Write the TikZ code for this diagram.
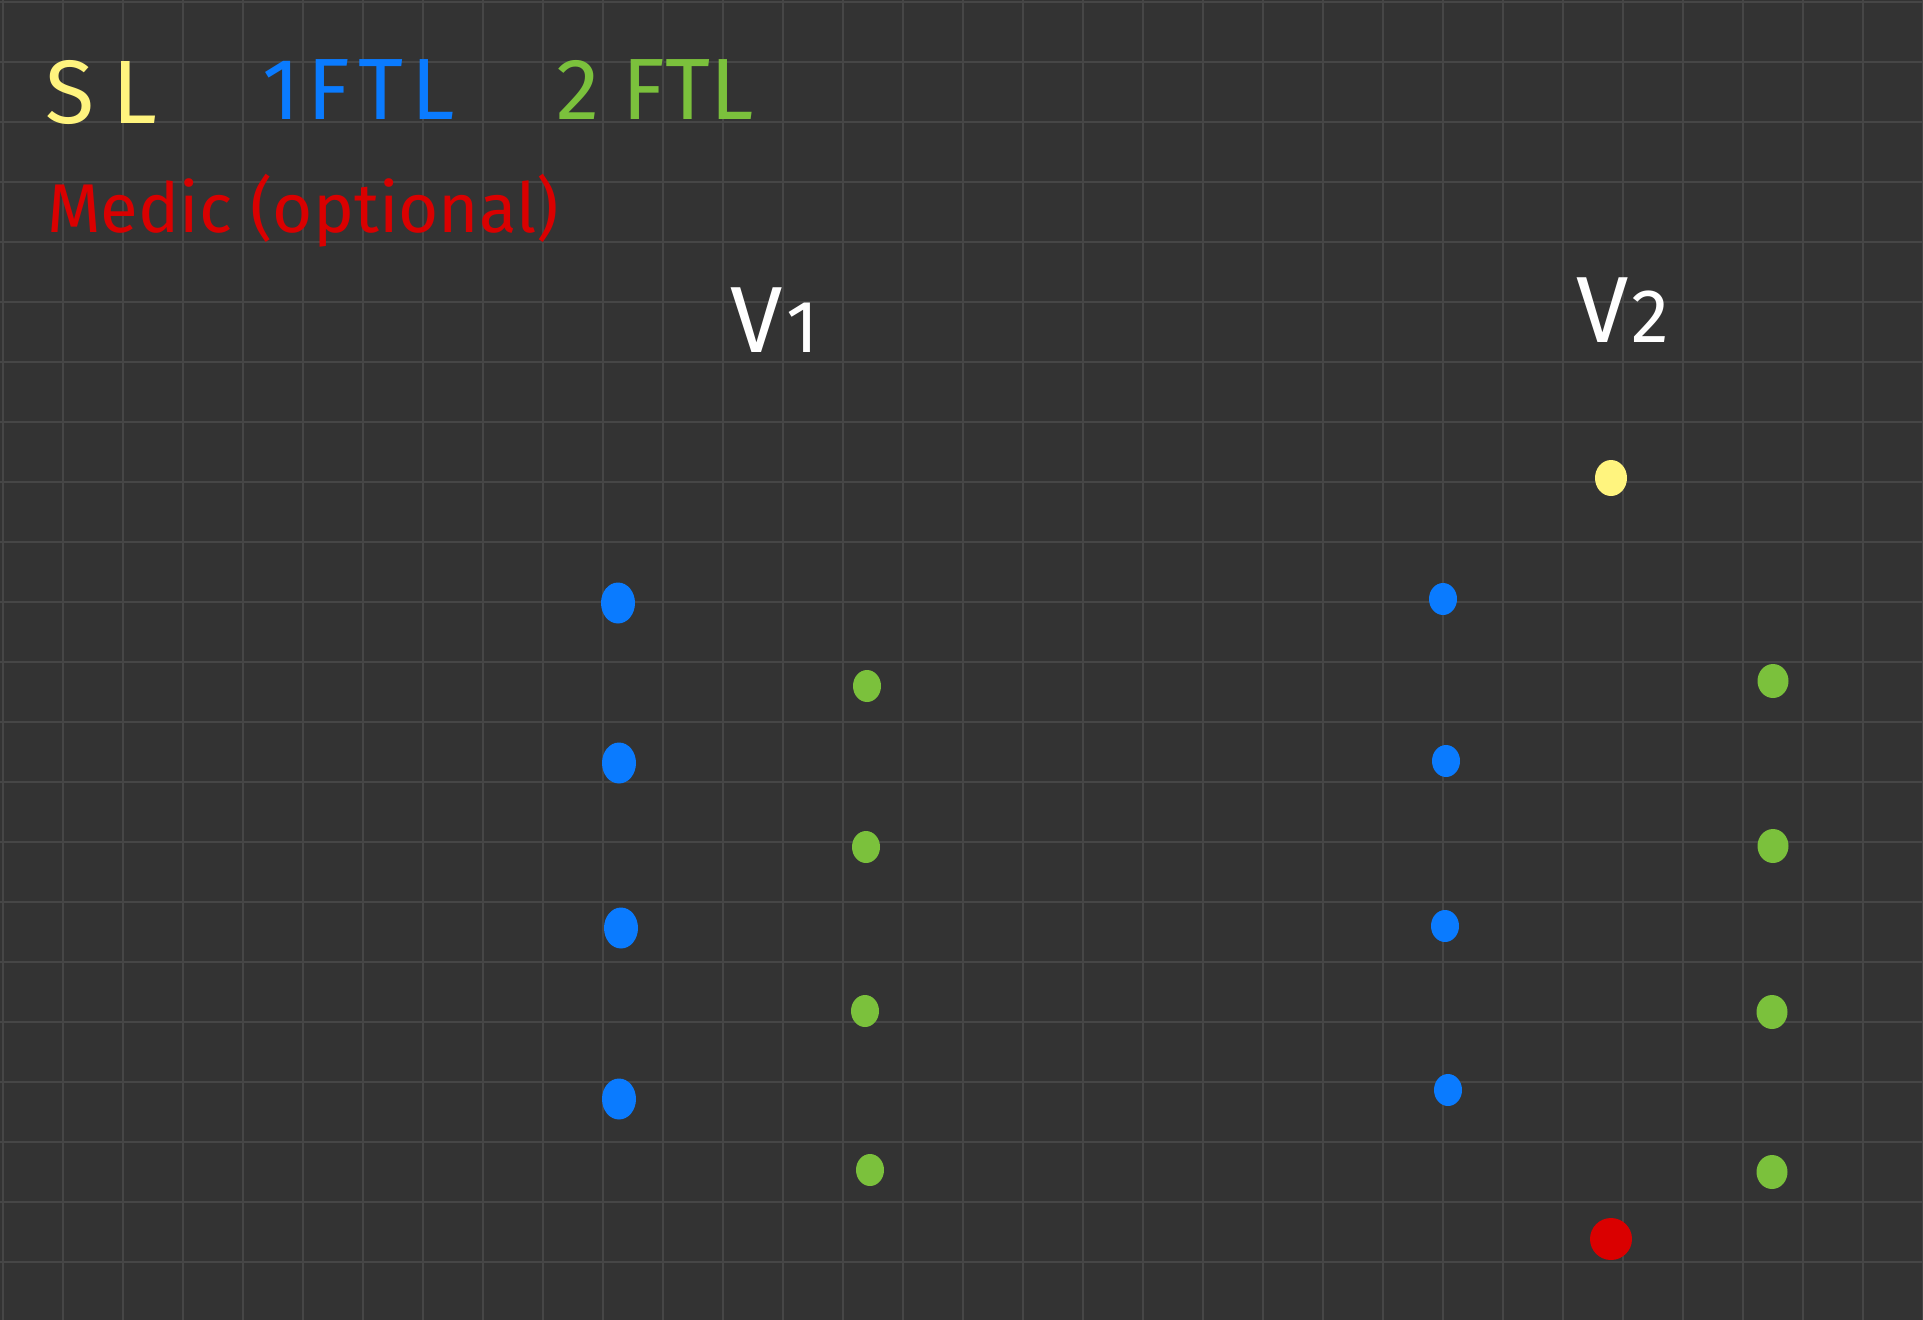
\documentclass[tikz,border=0pt]{standalone}
\usepackage{fontspec}
\setmainfont{Fira Sans}
\usetikzlibrary{shapes.geometric}

\definecolor{board}{HTML}{333333}
\definecolor{gridgray}{HTML}{464646}
\definecolor{slyellow}{HTML}{FFF47E}
\definecolor{ftlblue}{HTML}{0A7BFF}
\definecolor{ftlgreen}{HTML}{7BC13C}
\definecolor{medicred}{HTML}{DA0000}

\begin{document}
\begin{tikzpicture}[
    x=1pt, y=-1pt,
    gridline/.style={draw=gridgray, line width=2.5pt},
    label/.style={anchor=base west, inner sep=0pt},
    dot/.style={ellipse, inner sep=0pt, minimum width=#1},
    bigdot/.style={dot=34pt, minimum height=41pt},
    smalldot/.style={dot=28pt, minimum height=32pt}
]
    % Board
    \fill[board] (0,0) rectangle (1923,1320);
    \useasboundingbox (0,0) rectangle (1923,1320);
    \foreach \i in {0,...,32}
        \draw[gridline] ({3+60*\i},0) -- ({3+60*\i},1320);
    \foreach \j in {0,...,22}
        \draw[gridline] (0,{2+60*\j}) -- (1923,{2+60*\j});

    % Legend
    \node[label, text=slyellow, font=\fontsize{90}{100}\selectfont] (sl) at (45,123) {S\hspace{18pt}L};
    \node[label, text=ftlblue, font=\fontsize{87}{100}\selectfont\addfontfeature{LetterSpace=9}] (oneftl) at (262,119) {1FTL};
    \node[label, text=ftlgreen, font=\fontsize{87}{100}\selectfont] (twoftl) at (556,119) {2 FTL};
    \node[label, text=medicred, font=\fontsize{69}{80}\selectfont] (medic) at (47,232) {Medic (optional)};

    % Vehicles
    \node[label, text=white, font=\fontsize{94}{100}\selectfont] (vone) at (730,352) {V\hspace{4pt}{\fontsize{74}{80}\selectfont 1}};
    \node[label, text=white, font=\fontsize{94}{100}\selectfont] (vtwo) at (1576,342) {V\hspace{3pt}{\fontsize{76}{80}\selectfont 2}};

    % V1 dots
    \node[bigdot, fill=ftlblue] (vaA) at (618,603) {};
    \node[bigdot, fill=ftlblue] (vaB) at (619,763) {};
    \node[bigdot, fill=ftlblue] (vaC) at (621,928) {};
    \node[bigdot, fill=ftlblue] (vaD) at (619,1099) {};
    \node[smalldot, fill=ftlgreen] (vaE) at (867,686) {};
    \node[smalldot, fill=ftlgreen] (vaF) at (866,847) {};
    \node[smalldot, fill=ftlgreen] (vaG) at (865,1011) {};
    \node[smalldot, fill=ftlgreen] (vaH) at (870,1170) {};

    % V2 dots
    \node[dot=32pt, minimum height=36pt, fill=slyellow] (vbSL) at (1611,478) {};
    \node[smalldot, fill=ftlblue] (vbA) at (1443,599) {};
    \node[smalldot, fill=ftlblue] (vbB) at (1446,761) {};
    \node[smalldot, fill=ftlblue] (vbC) at (1445,926) {};
    \node[smalldot, fill=ftlblue] (vbD) at (1448,1090) {};
    \node[dot=31pt, minimum height=34pt, fill=ftlgreen] (vbE) at (1773,681) {};
    \node[dot=31pt, minimum height=34pt, fill=ftlgreen] (vbF) at (1773,846) {};
    \node[dot=31pt, minimum height=34pt, fill=ftlgreen] (vbG) at (1772,1012) {};
    \node[dot=31pt, minimum height=34pt, fill=ftlgreen] (vbH) at (1772,1172) {};
    \node[dot=42pt, minimum height=42pt, fill=medicred] (vbMed) at (1611,1239) {};
\end{tikzpicture}
\end{document}
